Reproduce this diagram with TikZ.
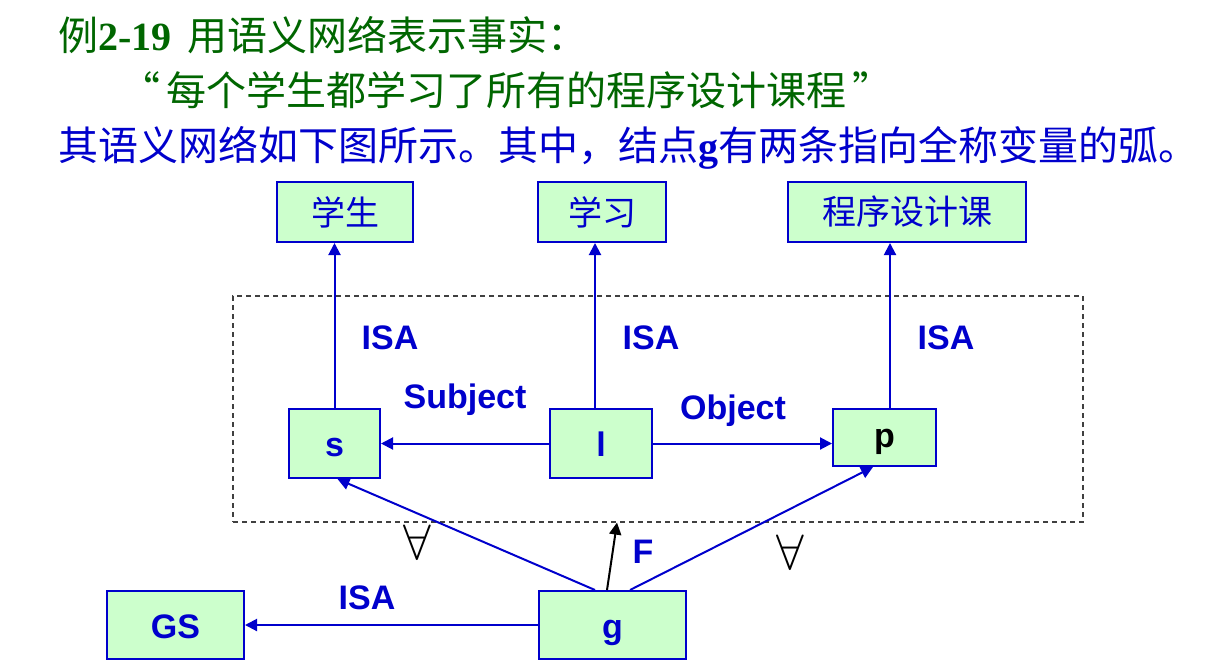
\documentclass[tikz,border=0pt]{standalone}
\usepackage{fontspec}
\setmainfont{Liberation Serif}
\newfontfamily\cjk{Noto Sans CJK SC}
\newfontfamily\arial{Liberation Sans}
\usepackage{tikz}
\usetikzlibrary{arrows.meta, positioning, calc}
\definecolor{netblue}{RGB}{0,0,204}
\definecolor{netgreen}{RGB}{0,102,0}
\definecolor{boxfill}{RGB}{204,255,204}

\begin{document}
\begin{tikzpicture}[
  x=0.5pt, y=-0.5pt,
  box/.style={draw=netblue, fill=boxfill, line width=1pt, inner sep=0pt, text=netblue, font=\fontsize{17}{17}\selectfont\cjk},
  var/.style={box, text height=13pt, text depth=0pt, font=\fontsize{17}{17}\selectfont\arial\bfseries},
  frame/.style={draw=black!75, dash pattern=on 2.5pt off 2pt, line width=0.6pt, inner sep=0pt},
  arr/.style={-{Triangle[length=6pt, width=6pt]}, draw=netblue, line width=1pt},
  farr/.style={-{Triangle[length=6pt, width=6pt]}, draw=black, line width=1pt},
  lbl/.style={text=netblue, font=\fontsize{17}{17}\selectfont\arial\bfseries},
  quant/.style={font=\fontsize{24}{24}\selectfont},
  title/.style={anchor=west, inner sep=0pt, font=\fontsize{20}{20}\selectfont}
]
\useasboundingbox (0,0) rectangle (1213,669);

% heading
\node[title, text=netgreen] (t1) at (58,35) {{\cjk 例}\textbf{2-19}\hspace{3pt} {\cjk 用语义网络表示事实：}};
\node[title, text=netgreen] (t2) at (120,90) {\cjk “\hspace{3pt}每个学生都学习了所有的程序设计课程\hspace{3pt}”};
\node[title, text=netblue] (t3) at (58,148) {{\cjk 其语义网络如下图所示。其中，结点}\textbf{g}{\cjk 有两条指向全称变量的弧。}};

% class nodes
\node[box, minimum width=68pt, minimum height=30pt] (stu) at (345,212) {学生};
\node[box, minimum width=64pt, minimum height=30pt] (lrn) at (602,212) {学习};
\node[box, minimum width=119pt, minimum height=30pt] (crs) at (907,212) {程序设计课};

% the fact
\node[frame, minimum width=425pt, minimum height=113pt] (net) at (658,409) {};
\node[var, minimum width=45.5pt, minimum height=34.5pt] (s) at (334.5,443.5) {s};
\node[var, minimum width=51pt, minimum height=34.5pt] (l) at (601,443.5) {l};
\node[var, text=black, text height=9.5pt, minimum width=51.5pt, minimum height=28.5pt] (p) at (884.5,437.5) {p};

\node[var, minimum width=68.5pt, minimum height=34pt] (gs) at (175.5,625) {GS};
\node[var, minimum width=73.5pt, minimum height=34pt] (g) at (612.5,625) {g};

% arcs
\draw[arr] (s.north) -- (s.north |- stu.south);
\draw[arr] ([xshift=-3pt]l.north) -- ([xshift=-3.5pt]lrn.south);
\draw[arr] ([xshift=2.75pt]p.north) -- ([xshift=-8.5pt]crs.south);
\draw[arr] (l) -- (s);
\draw[arr] (l) -- (l -| p.west);
\draw[arr] ([xshift=-8.75pt]g.north) -- ([xshift=1.5pt]s.south);
\draw[arr] ([xshift=8.75pt]g.north) -- ([xshift=-5.75pt]p.south);
\draw[farr] ([xshift=-2.75pt]g.north) -- ([xshift=-20.5pt]net.south);
\draw[arr] (g) -- (gs);

% labels
\node[lbl] (isa1) at (390,338) {ISA};
\node[lbl] (isa2) at (651,338) {ISA};
\node[lbl] (isa3) at (946,338) {ISA};
\node[lbl] (subj) at (465,400) {Subject};
\node[lbl] (obj) at (733,411) {Object};
\node[lbl] (fl) at (643,552) {F};
\node[lbl] (isa4) at (367,598) {ISA};
\node[quant] (all1) at (417,542) {$\forall$};
\node[quant] (all2) at (790,552) {$\forall$};

\end{tikzpicture}
\end{document}
